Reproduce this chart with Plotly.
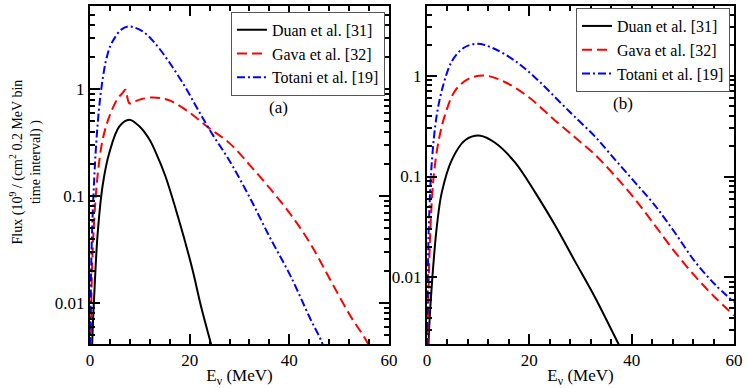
import plotly.graph_objects as go

# panel (a)
duan_a_x = [0.3, 0.5, 0.87, 1.53, 2.55, 3.9, 5.9, 7.9, 9.9, 11.9, 13.3, 15.1, 17.7, 20.4, 22.4, 24.3, 25.5]
duan_a_y = [0.002, 0.005, 0.0124, 0.044, 0.127, 0.257, 0.45, 0.52, 0.45, 0.34, 0.25, 0.155, 0.063, 0.022, 0.0088, 0.0041, 0.0025]

gava_a_x = [0.1, 0.2, 0.4, 0.87, 1.53, 2.55, 3.9, 5.55, 6.5, 7.1, 7.9, 9.0, 10.4, 12.6, 14.5, 16.4, 19.7, 23.7,
            28.1, 32.1, 36.1, 40.2, 44.2, 48.2, 52.2, 55.6, 57.0]
gava_a_y = [0.002, 0.005, 0.020, 0.063, 0.157, 0.34, 0.56, 0.82, 0.92, 0.99, 0.74, 0.77, 0.81, 0.84, 0.82, 0.77, 0.62, 0.44,
            0.31, 0.194, 0.118, 0.068, 0.036, 0.0165, 0.0076, 0.0043, 0.003]

totani_a_x = [0.05, 0.1, 0.4, 1.0, 1.5, 2.0, 2.6, 3.2, 4.0, 4.9, 6.2, 7.6, 9.0, 10.9, 12.9, 15.7, 19.1, 21.7, 24.4,
              28.1, 32.1, 36.1, 40.2, 44.2, 46.5, 47.5]
totani_a_y = [0.002, 0.0076, 0.044, 0.2, 0.45, 0.8, 1.3, 1.85, 2.5, 3.0, 3.6, 3.87, 3.78, 3.4, 2.75, 1.85, 1.05, 0.64, 0.39,
              0.21, 0.096, 0.041, 0.018, 0.0071, 0.0043, 0.003]

# panel (b)
duan_b_x = [0.2, 0.4, 1.0, 1.95, 2.9, 4.9, 7.5, 10.4, 13.3, 17.2, 21.1, 25.0, 28.9, 32.8, 37.4, 38.5]
duan_b_y = [0.0015, 0.003, 0.0093, 0.033, 0.07, 0.148, 0.23, 0.254, 0.216, 0.138, 0.070, 0.033, 0.0145, 0.0064, 0.0022, 0.0017]

gava_b_x = [0.1, 0.2, 0.65, 1.3, 2.3, 3.6, 5.5, 8.1, 11.4, 15.3, 19.9, 25.0, 28.9, 32.8, 36.7, 40.6, 44.5,
            48.4, 52.3, 56.2, 60]
gava_b_y = [0.001, 0.004, 0.029, 0.10, 0.23, 0.42, 0.71, 0.93, 1.0, 0.86, 0.61, 0.36, 0.245, 0.165, 0.102, 0.06, 0.033,
            0.018, 0.0104, 0.0064, 0.0042]

totani_b_x = [0.05, 0.1, 0.33, 0.98, 1.95, 3.25, 4.9, 7.2, 9.8, 12.7, 17.2, 21.8, 26.4, 28.9, 32.8, 36.7, 40.6,
              44.5, 48.4, 52.3, 56.2, 60]
totani_b_y = [0.001, 0.004, 0.029, 0.148, 0.42, 0.83, 1.40, 1.89, 2.07, 1.89, 1.40, 0.89, 0.52, 0.39, 0.25, 0.148, 0.088,
              0.052, 0.028, 0.0145, 0.0086, 0.0057]

names = ['Duan et al. [31]', 'Gava et al. [32]', 'Totani et al. [19]']
y_ticks = [0.01, 0.1, 1]
y_minor = [m * 10.0 ** e for e in range(-3, 1) for m in range(2, 10)]

FONT = 'Liberation Serif'
styles = [
    dict(color='black', width=2, dash='solid'),
    dict(color='#ff0000', width=2, dash='10px,5px'),
    dict(color='#0000ff', width=2, dash='8px,3px,2px,3px'),
]

fig = go.Figure()
panel_a = [(duan_a_x, duan_a_y), (gava_a_x, gava_a_y), (totani_a_x, totani_a_y)]
panel_b = [(duan_b_x, duan_b_y), (gava_b_x, gava_b_y), (totani_b_x, totani_b_y)]
for (x, y), nm, st in zip(panel_a, names, styles):
    fig.add_trace(go.Scatter(x=x, y=y, name=nm, mode='lines', line=dict(shape='spline', **st),
                             xaxis='x', yaxis='y', legend='legend'))
for (x, y), nm, st in zip(panel_b, names, styles):
    fig.add_trace(go.Scatter(x=x, y=y, name=nm, mode='lines', line=dict(shape='spline', **st),
                             xaxis='x2', yaxis='y2', legend='legend2'))

xcommon = dict(range=[0, 60], dtick=20, ticks='inside', ticklen=10, tickwidth=1.5, tickcolor='black',
               minor=dict(dtick=4, ticks='inside', ticklen=5, tickwidth=1.5, tickcolor='black'),
               showline=True, linewidth=2, linecolor='black', mirror='ticks', showgrid=False, zeroline=False,
               tickfont=dict(family=FONT, size=17, color='black'),
               title=dict(text='E<sub>ν</sub> (MeV)', font=dict(family=FONT, size=17, color='black'), standoff=2))
ycommon = dict(type='log', tickvals=y_ticks, ticktext=['0.01', '0.1', '1'], ticks='inside', ticklen=10,
               tickwidth=1.5, tickcolor='black',
               minor=dict(tickvals=y_minor, ticks='inside', ticklen=5, tickwidth=1.5, tickcolor='black'),
               showline=True, linewidth=2, linecolor='black', mirror='ticks', showgrid=False, zeroline=False,
               tickfont=dict(family=FONT, size=17, color='black'))

legcommon = dict(xanchor='right', yanchor='top', bordercolor='#555555', borderwidth=1, bgcolor='white',
                 font=dict(family=FONT, size=16, color='black'), tracegroupgap=0, itemwidth=30)

fig.update_layout(
    width=747, height=388,
    margin=dict(l=90, r=13, t=4, b=39),
    plot_bgcolor='white', paper_bgcolor='white',
    xaxis=dict(domain=[0, 0.4643], anchor='y', **xcommon),
    yaxis=dict(domain=[0, 1], anchor='x', range=[-2.385, 0.78], **ycommon),
    xaxis2=dict(domain=[0.5233, 1], anchor='y2', **xcommon),
    yaxis2=dict(domain=[0, 1], anchor='x2', range=[-2.66, 0.69], **ycommon),
    legend=dict(x=0.458, y=0.983, **legcommon),
    legend2=dict(x=0.9938, y=0.994, **legcommon),
    showlegend=True,
    annotations=[
        dict(text='(a)', x=0.292, y=0.701, xref='paper', yref='paper', xanchor='center', yanchor='middle',
             showarrow=False, font=dict(family=FONT, size=17, color='black')),
        dict(text='(b)', x=0.8276, y=0.713, xref='paper', yref='paper', xanchor='center', yanchor='middle',
             showarrow=False, font=dict(family=FONT, size=17, color='black')),
        dict(text='Flux (10<sup>9</sup> / (cm<sup>2</sup> 0.2 MeV bin<br>time interval) )', x=-0.100, y=0.539,
             xref='paper', yref='paper', xanchor='center', yanchor='middle', showarrow=False, textangle=-90,
             font=dict(family=FONT, size=14, color='black')),
    ],
)

fig.write_html('out.html', config={'displayModeBar': False},
               post_script="document.body.style.margin='0';")
